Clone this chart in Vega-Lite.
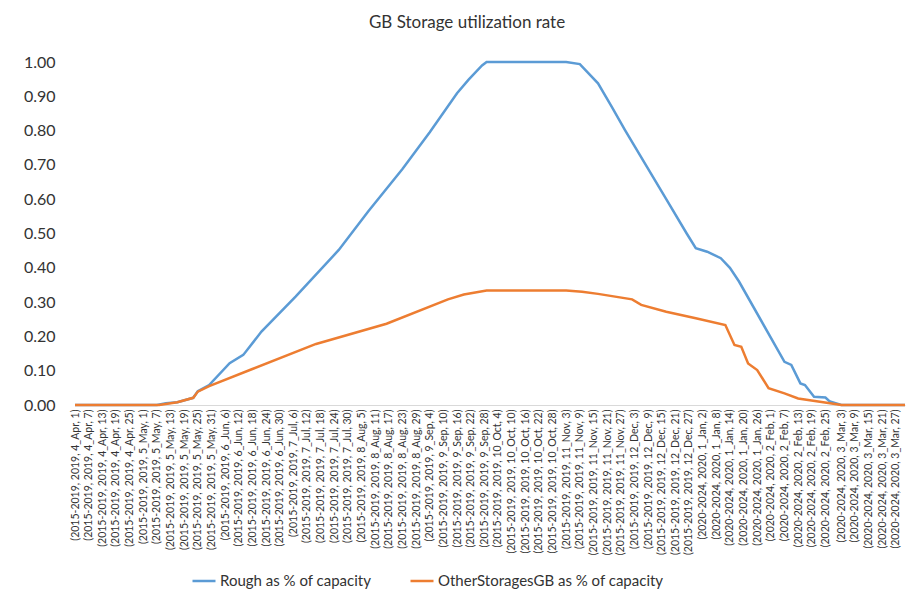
{
  "$schema": "https://vega.github.io/schema/vega-lite/v6.json",
  "width": 830,
  "height": 343,
  "autosize": {"type": "none"},
  "padding": {"left": 75, "top": 62, "right": 13, "bottom": 187},
  "background": "white",
  "config": {"view": {"stroke": null}, "font": "Lato"},
  "title": {"text": "GB Storage utilization rate", "fontSize": 17, "fontWeight": "normal", "color": "#333333", "anchor": "middle", "dx": -23, "offset": 22},
  "data": {
    "values": [
      {"date": "2019-04-01", "series": "Rough as % of capacity", "value": 0},
      {"date": "2019-05-07", "series": "Rough as % of capacity", "value": 0},
      {"date": "2019-05-11", "series": "Rough as % of capacity", "value": 0.005},
      {"date": "2019-05-16", "series": "Rough as % of capacity", "value": 0.008},
      {"date": "2019-05-23", "series": "Rough as % of capacity", "value": 0.021},
      {"date": "2019-05-25", "series": "Rough as % of capacity", "value": 0.04},
      {"date": "2019-05-30", "series": "Rough as % of capacity", "value": 0.058},
      {"date": "2019-06-08", "series": "Rough as % of capacity", "value": 0.122},
      {"date": "2019-06-14", "series": "Rough as % of capacity", "value": 0.146},
      {"date": "2019-06-22", "series": "Rough as % of capacity", "value": 0.214},
      {"date": "2019-07-07", "series": "Rough as % of capacity", "value": 0.316},
      {"date": "2019-07-26", "series": "Rough as % of capacity", "value": 0.452},
      {"date": "2019-08-08", "series": "Rough as % of capacity", "value": 0.565},
      {"date": "2019-08-23", "series": "Rough as % of capacity", "value": 0.688},
      {"date": "2019-09-04", "series": "Rough as % of capacity", "value": 0.795},
      {"date": "2019-09-16", "series": "Rough as % of capacity", "value": 0.909},
      {"date": "2019-09-21", "series": "Rough as % of capacity", "value": 0.948},
      {"date": "2019-09-27", "series": "Rough as % of capacity", "value": 0.99},
      {"date": "2019-09-29", "series": "Rough as % of capacity", "value": 1.0},
      {"date": "2019-11-03", "series": "Rough as % of capacity", "value": 1.0},
      {"date": "2019-11-09", "series": "Rough as % of capacity", "value": 0.994},
      {"date": "2019-11-17", "series": "Rough as % of capacity", "value": 0.938},
      {"date": "2019-11-23", "series": "Rough as % of capacity", "value": 0.87},
      {"date": "2019-11-29", "series": "Rough as % of capacity", "value": 0.8},
      {"date": "2019-12-08", "series": "Rough as % of capacity", "value": 0.7},
      {"date": "2019-12-17", "series": "Rough as % of capacity", "value": 0.6},
      {"date": "2019-12-26", "series": "Rough as % of capacity", "value": 0.5},
      {"date": "2019-12-30", "series": "Rough as % of capacity", "value": 0.457},
      {"date": "2020-01-04", "series": "Rough as % of capacity", "value": 0.447},
      {"date": "2020-01-10", "series": "Rough as % of capacity", "value": 0.428},
      {"date": "2020-01-14", "series": "Rough as % of capacity", "value": 0.4},
      {"date": "2020-01-18", "series": "Rough as % of capacity", "value": 0.36},
      {"date": "2020-02-07", "series": "Rough as % of capacity", "value": 0.126},
      {"date": "2020-02-10", "series": "Rough as % of capacity", "value": 0.117},
      {"date": "2020-02-14", "series": "Rough as % of capacity", "value": 0.063},
      {"date": "2020-02-16", "series": "Rough as % of capacity", "value": 0.058},
      {"date": "2020-02-20", "series": "Rough as % of capacity", "value": 0.024},
      {"date": "2020-02-25", "series": "Rough as % of capacity", "value": 0.022},
      {"date": "2020-02-27", "series": "Rough as % of capacity", "value": 0.01},
      {"date": "2020-03-03", "series": "Rough as % of capacity", "value": 0},
      {"date": "2020-03-31", "series": "Rough as % of capacity", "value": 0},
      {"date": "2019-04-01", "series": "OtherStoragesGB as % of capacity", "value": 0},
      {"date": "2019-05-08", "series": "OtherStoragesGB as % of capacity", "value": 0},
      {"date": "2019-05-16", "series": "OtherStoragesGB as % of capacity", "value": 0.008},
      {"date": "2019-05-23", "series": "OtherStoragesGB as % of capacity", "value": 0.021},
      {"date": "2019-05-25", "series": "OtherStoragesGB as % of capacity", "value": 0.039},
      {"date": "2019-05-30", "series": "OtherStoragesGB as % of capacity", "value": 0.055},
      {"date": "2019-06-18", "series": "OtherStoragesGB as % of capacity", "value": 0.105},
      {"date": "2019-07-16", "series": "OtherStoragesGB as % of capacity", "value": 0.178},
      {"date": "2019-08-16", "series": "OtherStoragesGB as % of capacity", "value": 0.237},
      {"date": "2019-09-12", "series": "OtherStoragesGB as % of capacity", "value": 0.308},
      {"date": "2019-09-19", "series": "OtherStoragesGB as % of capacity", "value": 0.322},
      {"date": "2019-09-29", "series": "OtherStoragesGB as % of capacity", "value": 0.334},
      {"date": "2019-11-03", "series": "OtherStoragesGB as % of capacity", "value": 0.334},
      {"date": "2019-11-10", "series": "OtherStoragesGB as % of capacity", "value": 0.33},
      {"date": "2019-11-17", "series": "OtherStoragesGB as % of capacity", "value": 0.324},
      {"date": "2019-12-02", "series": "OtherStoragesGB as % of capacity", "value": 0.308},
      {"date": "2019-12-06", "series": "OtherStoragesGB as % of capacity", "value": 0.292},
      {"date": "2019-12-17", "series": "OtherStoragesGB as % of capacity", "value": 0.272},
      {"date": "2019-12-30", "series": "OtherStoragesGB as % of capacity", "value": 0.253},
      {"date": "2020-01-12", "series": "OtherStoragesGB as % of capacity", "value": 0.233},
      {"date": "2020-01-16", "series": "OtherStoragesGB as % of capacity", "value": 0.175},
      {"date": "2020-01-19", "series": "OtherStoragesGB as % of capacity", "value": 0.17},
      {"date": "2020-01-22", "series": "OtherStoragesGB as % of capacity", "value": 0.121},
      {"date": "2020-01-26", "series": "OtherStoragesGB as % of capacity", "value": 0.102},
      {"date": "2020-01-31", "series": "OtherStoragesGB as % of capacity", "value": 0.049},
      {"date": "2020-02-07", "series": "OtherStoragesGB as % of capacity", "value": 0.034},
      {"date": "2020-02-13", "series": "OtherStoragesGB as % of capacity", "value": 0.019},
      {"date": "2020-02-27", "series": "OtherStoragesGB as % of capacity", "value": 0.005},
      {"date": "2020-03-03", "series": "OtherStoragesGB as % of capacity", "value": 0},
      {"date": "2020-03-31", "series": "OtherStoragesGB as % of capacity", "value": 0}
    ],
    "format": {"parse": {"date": "utc:'%Y-%m-%d'"}}
  },
  "mark": {"type": "line", "strokeWidth": 2.5},
  "encoding": {
    "x": {
      "field": "date",
      "type": "temporal",
      "scale": {"type": "utc", "domain": [1554076800000, 1585612800000]},
      "axis": {
        "title": null,
        "grid": false,
        "ticks": false,
        "domainColor": "#D9D9D9",
        "domainWidth": 1,
        "labelAngle": -90,
        "labelFontSize": 10.5,
        "labelColor": "#333333",
        "labelPadding": 4,
        "labelFlush": false,
        "labelOverlap": false,
        "values": [1554076800000, 1554595200000, 1555113600000, 1555632000000, 1556150400000, 1556668800000, 1557187200000, 1557705600000, 1558224000000, 1558742400000, 1559260800000, 1559779200000, 1560297600000, 1560816000000, 1561334400000, 1561852800000, 1562371200000, 1562889600000, 1563408000000, 1563926400000, 1564444800000, 1564963200000, 1565481600000, 1566000000000, 1566518400000, 1567036800000, 1567555200000, 1568073600000, 1568592000000, 1569110400000, 1569628800000, 1570147200000, 1570665600000, 1571184000000, 1571702400000, 1572220800000, 1572739200000, 1573257600000, 1573776000000, 1574294400000, 1574812800000, 1575331200000, 1575849600000, 1576368000000, 1576886400000, 1577404800000, 1577923200000, 1578441600000, 1578960000000, 1579478400000, 1579996800000, 1580515200000, 1581033600000, 1581552000000, 1582070400000, 1582588800000, 1583193600000, 1583712000000, 1584230400000, 1584748800000, 1585267200000],
        "labelExpr": "'(' + (utcyear(datum.value) == 2019 ? '2015-2019' : '2020-2024') + ', ' + utcyear(datum.value) + ', ' + (utcmonth(datum.value) + 1) + '_' + utcFormat(datum.value, '%b') + ', ' + utcdate(datum.value) + ')'"
      }
    },
    "y": {
      "field": "value",
      "type": "quantitative",
      "scale": {"domain": [0, 1]},
      "axis": {
        "title": null,
        "grid": false,
        "domain": false,
        "ticks": false,
        "values": [0, 0.1, 0.2, 0.3, 0.4, 0.5, 0.6, 0.7, 0.8, 0.9, 1.0],
        "format": ".2f",
        "labelFontSize": 16,
        "labelColor": "#333333",
        "labelPadding": 20
      }
    },
    "color": {
      "field": "series",
      "type": "nominal",
      "sort": ["Rough as % of capacity", "OtherStoragesGB as % of capacity"],
      "scale": {"domain": ["Rough as % of capacity", "OtherStoragesGB as % of capacity"], "range": ["#5B9BD5", "#ED7D31"]},
      "legend": {
        "title": null,
        "orient": "none",
        "direction": "horizontal",
        "legendX": 116,
        "legendY": 506,
        "symbolType": "stroke",
        "symbolSize": 529,
        "symbolStrokeWidth": 2.5,
        "labelFontSize": 15,
        "labelLimit": 0,
        "labelColor": "#333333",
        "labelOffset": 3,
        "columnPadding": 33
      }
    }
  }
}
